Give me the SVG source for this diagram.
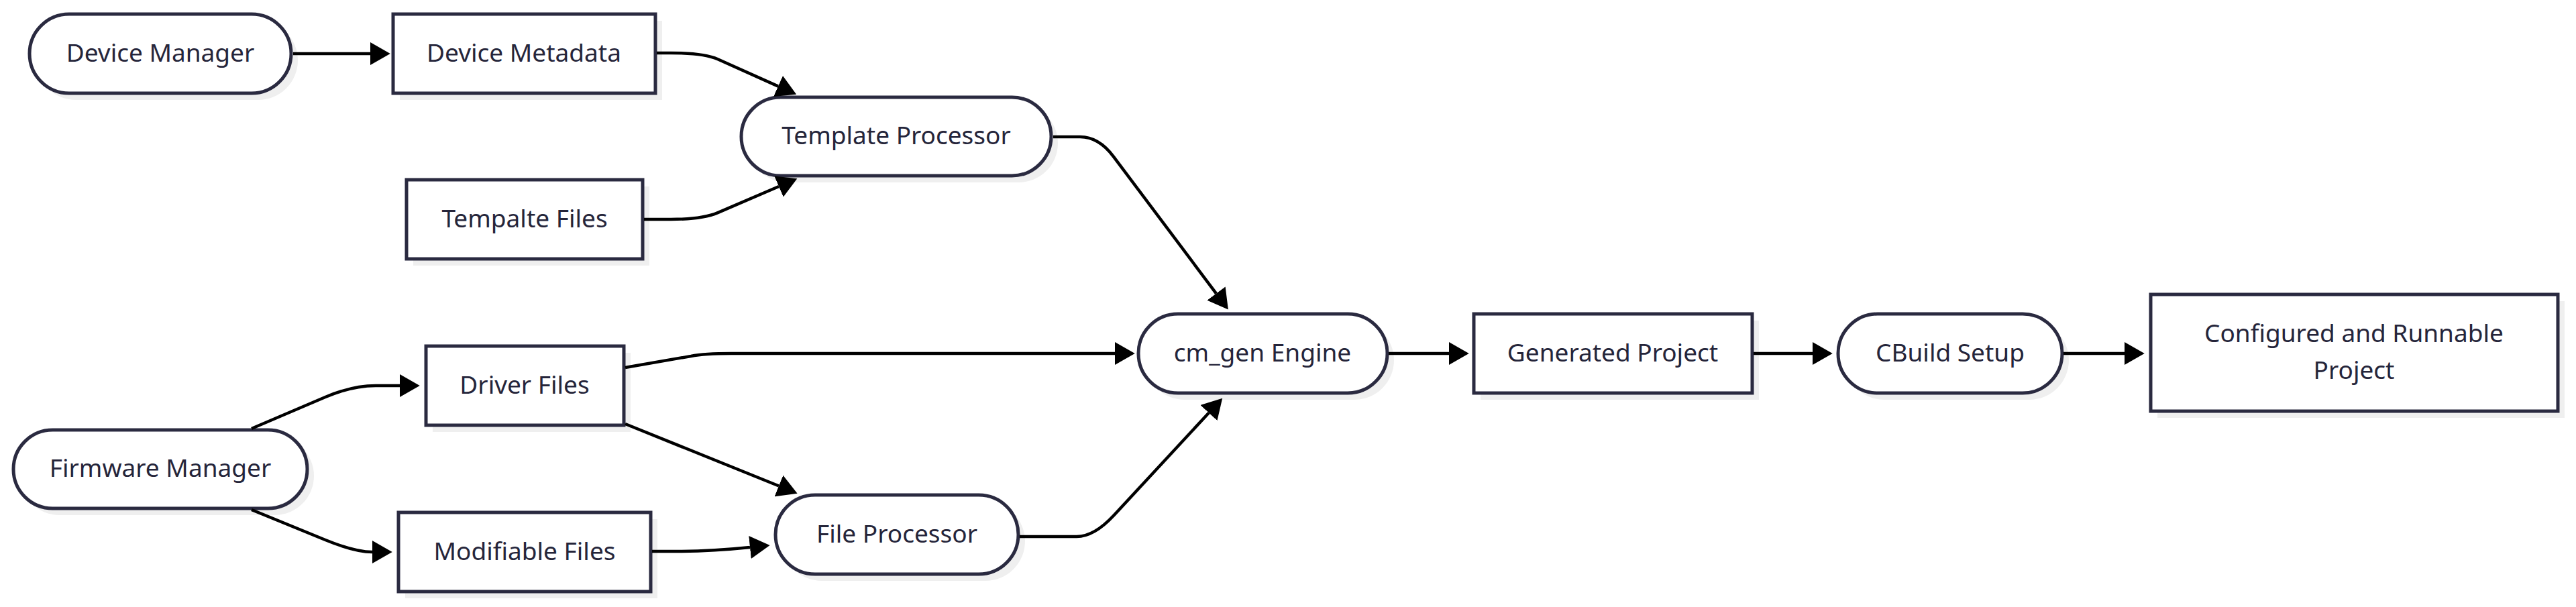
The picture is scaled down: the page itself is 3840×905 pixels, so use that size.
<svg xmlns="http://www.w3.org/2000/svg" width="3840" height="905" viewBox="0 0 3840 905">
<defs>
<marker id="arr" markerUnits="userSpaceOnUse" markerWidth="30" markerHeight="34" viewBox="0 0 28 32" refX="0" refY="16" orient="auto">
<path d="M0,0 L28,16 L0,32 z" fill="#000"/>
</marker>
</defs>
<style>
.sh{fill:#efefef;stroke:none}
.nd{fill:#ffffff;stroke:#2a2a40;stroke-width:5}
.tx{font-family:"Noto Sans","Open Sans",sans-serif;font-size:37px;fill:#25253a;text-anchor:middle}
.e{fill:none;stroke:#000;stroke-width:4.5;marker-end:url(#arr)}
</style>
<rect width="3840" height="905" fill="#ffffff"/>
<g id="device-manager">
<rect class="sh" x="54" y="31" width="390" height="118" rx="59"/>
<rect class="nd" x="44" y="21" width="390" height="118" rx="59"/>
<text class="tx" x="239" y="92">Device Manager</text>
</g>
<g id="device-metadata">
<rect class="sh" x="596" y="31" width="391" height="118"/>
<rect class="nd" x="586" y="21" width="391" height="118"/>
<text class="tx" x="781" y="92">Device Metadata</text>
</g>
<g id="tempalte-files">
<rect class="sh" x="616" y="278" width="352" height="118"/>
<rect class="nd" x="606" y="268" width="352" height="118"/>
<text class="tx" x="782" y="339">Tempalte Files</text>
</g>
<g id="template-processor">
<rect class="sh" x="1115" y="155" width="462" height="117" rx="58.5"/>
<rect class="nd" x="1105" y="145" width="462" height="117" rx="58.5"/>
<text class="tx" x="1336" y="215">Template Processor</text>
</g>
<g id="firmware-manager">
<rect class="sh" x="30" y="651" width="438" height="117" rx="58.5"/>
<rect class="nd" x="20" y="641" width="438" height="117" rx="58.5"/>
<text class="tx" x="239" y="711">Firmware Manager</text>
</g>
<g id="driver-files">
<rect class="sh" x="645" y="526" width="295" height="118"/>
<rect class="nd" x="635" y="516" width="295" height="118"/>
<text class="tx" x="782" y="587">Driver Files</text>
</g>
<g id="modifiable-files">
<rect class="sh" x="604" y="774" width="376" height="118"/>
<rect class="nd" x="594" y="764" width="376" height="118"/>
<text class="tx" x="782" y="835">Modifiable Files</text>
</g>
<g id="file-processor">
<rect class="sh" x="1166" y="748" width="362" height="118" rx="59"/>
<rect class="nd" x="1156" y="738" width="362" height="118" rx="59"/>
<text class="tx" x="1337" y="809">File Processor</text>
</g>
<g id="cm-gen-engine">
<rect class="sh" x="1707" y="478" width="371" height="118" rx="59"/>
<rect class="nd" x="1697" y="468" width="371" height="118" rx="59"/>
<text class="tx" x="1882" y="539">cm_gen Engine</text>
</g>
<g id="generated-project">
<rect class="sh" x="2207" y="478" width="415" height="118"/>
<rect class="nd" x="2197" y="468" width="415" height="118"/>
<text class="tx" x="2404" y="539">Generated Project</text>
</g>
<g id="cbuild-setup">
<rect class="sh" x="2750" y="478" width="334" height="118" rx="59"/>
<rect class="nd" x="2740" y="468" width="334" height="118" rx="59"/>
<text class="tx" x="2907" y="539">CBuild Setup</text>
</g>
<g id="configured-project">
<rect class="sh" x="3216" y="449" width="607" height="174"/>
<rect class="nd" x="3206" y="439" width="607" height="174"/>
<text class="tx" x="3509" y="510">Configured and Runnable</text>
<text class="tx" x="3509" y="565">Project</text>
</g>
<g id="connectors">
<path class="e" d="M437,80 L552,80"/>
<path class="e" d="M979,79 L1000,79 Q1049,79 1070,88.3 L1160,128.6"/>
<path class="e" d="M960,327 L1000,327 Q1047,327 1070,317.1 L1161,278"/>
<path class="e" d="M1570,204 L1610,204 Q1638,204 1660,233.6 L1813,437.6"/>
<path class="e" d="M375,639 L485,592 Q525,575 560,575 L596,575"/>
<path class="e" d="M375,760 L485,805 Q529,823 555,823"/>
<path class="e" d="M932,548 L1030,531 Q1050,527 1090,527 L1662,527"/>
<path class="e" d="M932,632 L1161,724.5"/>
<path class="e" d="M972,822 L1010,822 Q1060,822 1118,816"/>
<path class="e" d="M1520,800 L1605,800 Q1631,800 1660,768.8 L1802,615.5"/>
<path class="e" d="M2070,527 L2160,527"/>
<path class="e" d="M2614,527 L2702,527"/>
<path class="e" d="M3076,527 L3167,527"/>
</g>
</svg>
